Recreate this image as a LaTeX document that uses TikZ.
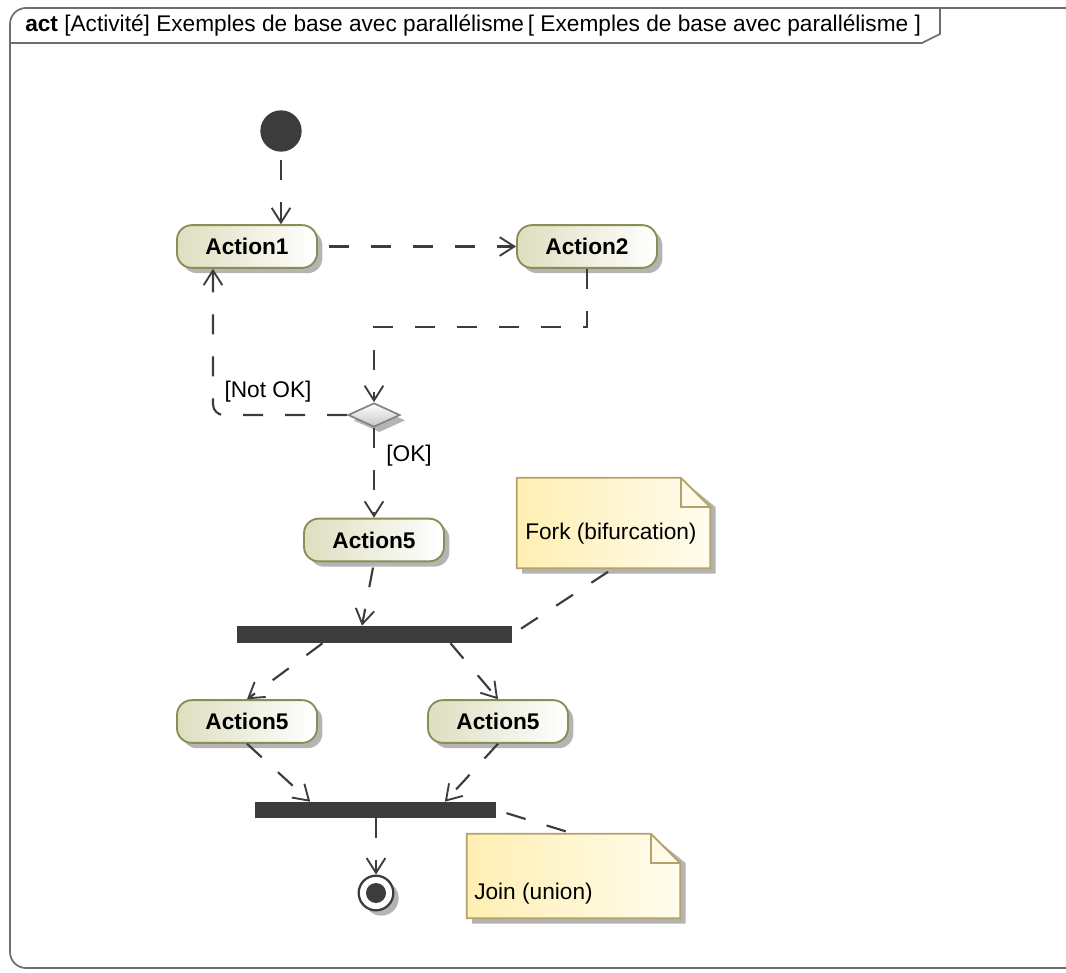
\documentclass[tikz,border=0pt]{standalone}
\usepackage{fontspec}
\setmainfont{Liberation Sans}
\usetikzlibrary{arrows.meta,shapes.geometric,shadows}

\definecolor{ink}{HTML}{3C3C3C}
\definecolor{framecol}{HTML}{6E6E6E}
\definecolor{actborder}{HTML}{8C8C55}
\definecolor{actleft}{HTML}{DEDEC0}
\definecolor{shadowcol}{HTML}{B4B4B4}
\definecolor{noteleft}{HTML}{FFEFB2}
\definecolor{noteright}{HTML}{FFFCEE}
\definecolor{noteborder}{HTML}{B3A26C}
\definecolor{decborder}{HTML}{85857A}

\begin{document}
\begin{tikzpicture}[x=0.75pt,y=-0.75pt,
  txt/.style={font=\fontsize{17}{20}\selectfont, inner sep=0pt},
  softshadow/.style={general shadow={fill=shadowcol, shadow xshift=4pt, shadow yshift=-4pt}},
  action/.style={rectangle, rounded corners=11pt, draw=actborder, line width=1.4pt,
    left color=actleft, right color=white, softshadow,
    minimum width=105pt, minimum height=32pt,
    font=\fontsize{17}{20}\selectfont\bfseries},
  bar/.style={rectangle, fill=ink, inner sep=0pt},
  flow/.style={draw=ink, line width=1.6pt, dash pattern=on 15pt off 16.5pt,
    -{Straight Barb[length=11pt,width=14pt,line width=1.4pt]}},
  anchorline/.style={draw=ink, line width=1.6pt, dash pattern=on 15pt off 16.5pt},
  noteshape/.style={draw=noteborder, line width=1.3pt, left color=noteleft, right color=noteright},
  notebox/.style={rectangle, inner sep=0pt}
]
\useasboundingbox (0,0) rectangle (1066,973);
\clip (0,0) rectangle (1066,973);

% frame of the activity
\draw[framecol, line width=1.3pt, rounded corners=12pt] (1120,968) -- (10,968) -- (10,8) -- (1120,8);
\draw[framecol, line width=1.3pt] (10,43) -- (922,43) -- (940,34) -- (940,8);
\node[txt, anchor=base west] (title) at (25,32)
  {\textbf{act} [Activité] Exemples de base avec parallélisme\,[ Exemples de base avec parallélisme ]};

% nodes
\node[circle, fill=ink, minimum size=31pt, inner sep=0pt] (init) at (281,131) {};
\node[action] (a1) at (247,246.5) {Action1};
\node[action] (a2) at (587,246.5) {Action2};
\node[diamond, draw=decborder, line width=1.3pt, top color=white, bottom color=gray!45,
      softshadow, minimum width=39pt, minimum height=18pt, inner sep=0pt] (dec) at (374,415) {};
\node[action] (a5) at (374,540) {Action5};
\node[bar, minimum width=206pt, minimum height=12.75pt] (fork) at (374.5,634.5) {};
\node[action] (a5l) at (247,721.5) {Action5};
\node[action] (a5r) at (498,721.5) {Action5};
\node[bar, minimum width=180.75pt, minimum height=12pt] (join) at (375.5,810) {};
\node[circle, draw=ink, line width=1.7pt, fill=white, minimum size=26pt, inner sep=0pt,
      softshadow] (fin) at (376,893) {};
\fill[ink] (fin.center) circle (7.5pt);

% notes
\node[notebox, minimum width=144.75pt, minimum height=67.5pt] (n1) at (613.5,523) {};
\fill[shadowcol] ([xshift=4pt,yshift=-4pt]n1.north west) -- ([xshift=-18pt,yshift=-4pt]n1.north east)
  -- ([xshift=4pt,yshift=-22pt]n1.north east) -- ([xshift=4pt,yshift=-4pt]n1.south east)
  -- ([xshift=4pt,yshift=-4pt]n1.south west) -- cycle;
\path[noteshape] (n1.north west) -- ([xshift=-22pt]n1.north east) -- ([yshift=-22pt]n1.north east)
  -- (n1.south east) -- (n1.south west) -- cycle;
\draw[noteborder, line width=1.3pt] ([xshift=-22pt]n1.north east) -- ([xshift=-22pt,yshift=-22pt]n1.north east)
  -- ([yshift=-22pt]n1.north east);
\node[txt, anchor=base west] (n1t) at (525,539) {Fork (bifurcation)};

\node[notebox, minimum width=159.75pt, minimum height=63pt] (n2) at (573.5,876) {};
\fill[shadowcol] ([xshift=4pt,yshift=-4pt]n2.north west) -- ([xshift=-18pt,yshift=-4pt]n2.north east)
  -- ([xshift=4pt,yshift=-22pt]n2.north east) -- ([xshift=4pt,yshift=-4pt]n2.south east)
  -- ([xshift=4pt,yshift=-4pt]n2.south west) -- cycle;
\path[noteshape] (n2.north west) -- ([xshift=-22pt]n2.north east) -- ([yshift=-22pt]n2.north east)
  -- (n2.south east) -- (n2.south west) -- cycle;
\draw[noteborder, line width=1.3pt] ([xshift=-22pt]n2.north east) -- ([xshift=-22pt,yshift=-22pt]n2.north east)
  -- ([yshift=-22pt]n2.north east);
\node[txt, anchor=base west] (n2t) at (474,899) {Join (union)};

% control flows
\draw[flow, shorten <=6pt] (init.south) -- (a1.north -| init.south);
\draw[flow, shorten <=8pt] (a1.east) -- (a2.west);
\draw[flow] (a2.south) -- ++(0,58) -| (dec.north);
\draw[flow, rounded corners=8pt] (dec.west) -| ([xshift=-25.5pt]a1.south);
\node[txt] (lnok) at (268,392) {[Not OK]};
\draw[flow] (dec.south) -- (a5.north);
\node[txt] (lok) at (409,456) {[OK]};
\draw[flow, shorten <=4pt] (a5.south) -- ([xshift=-9.4pt]fork.north);
\draw[flow] ([xshift=-39pt]fork.south) -- (a5l.north);
\draw[flow] ([xshift=57pt]fork.south) -- (a5r.north);
\draw[flow] (a5l.south) -- ([xshift=-49pt]join.north);
\draw[flow] (a5r.south) -- ([xshift=52pt]join.north);
\draw[flow] (join.south -| fin.north) -- (fin.north);

% note anchors
\draw[anchorline, shorten <=8pt] (fork.east) -- (n1.south);
\draw[anchorline, shorten <=8pt] (join.east) -- (n2.north);
\end{tikzpicture}
\end{document}
